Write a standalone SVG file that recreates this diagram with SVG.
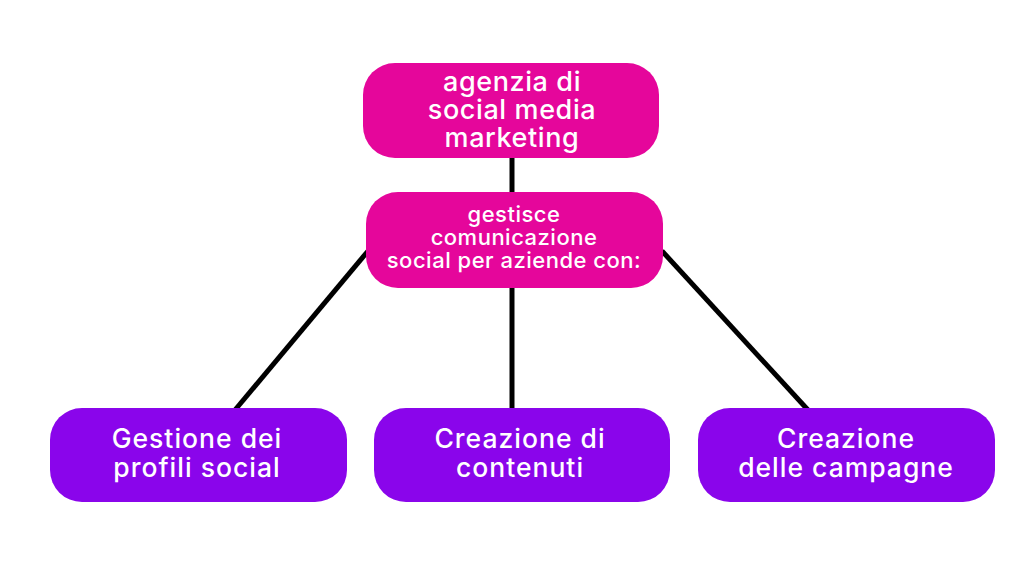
<svg xmlns="http://www.w3.org/2000/svg" width="1024" height="576" viewBox="0 0 1024 576">
<style>
.pink{fill:#E5069B}
.purple{fill:#8A05EB}
.t{fill:#fff;font-family:Inter,"Noto Sans",sans-serif;font-weight:500;text-anchor:middle}
.big{font-size:27px;letter-spacing:0.6px}
.mid{font-size:22px;letter-spacing:0.5px}
.bot{font-size:26.5px;letter-spacing:1px}
.conn{stroke:#000;stroke-width:5;fill:none}
</style>
<rect width="1024" height="576" fill="#fff"/>
<g id="connectors">
<line class="conn" x1="512" y1="155" x2="512" y2="195"/>
<line class="conn" x1="512" y1="285" x2="512" y2="410"/>
<line class="conn" x1="368" y1="251" x2="235" y2="410"/>
<line class="conn" x1="662" y1="251" x2="808" y2="410"/>
</g>
<g id="node-agenzia">
<rect class="pink" x="363" y="63" width="296" height="95" rx="32"/>
<text class="t big" x="512" y="91">agenzia di</text>
<text class="t big" x="512" y="119">social media</text>
<text class="t big" x="512" y="147">marketing</text>
</g>
<g id="node-gestisce">
<rect class="pink" x="366" y="192" width="297" height="96" rx="32"/>
<text class="t mid" x="514" y="222">gestisce</text>
<text class="t mid" x="514" y="245">comunicazione</text>
<text class="t mid" x="514" y="268">social per aziende con:</text>
</g>
<g id="node-gestione">
<rect class="purple" x="50" y="408" width="297" height="94" rx="32"/>
<text class="t bot" x="197" y="448">Gestione dei</text>
<text class="t bot" x="197" y="477">profili social</text>
</g>
<g id="node-contenuti">
<rect class="purple" x="374" y="408" width="296" height="94" rx="32"/>
<text class="t bot" x="520" y="448">Creazione di</text>
<text class="t bot" x="520" y="477">contenuti</text>
</g>
<g id="node-campagne">
<rect class="purple" x="698" y="408" width="297" height="94" rx="32"/>
<text class="t bot" x="846" y="448">Creazione</text>
<text class="t bot" x="846" y="477">delle campagne</text>
</g>
</svg>
